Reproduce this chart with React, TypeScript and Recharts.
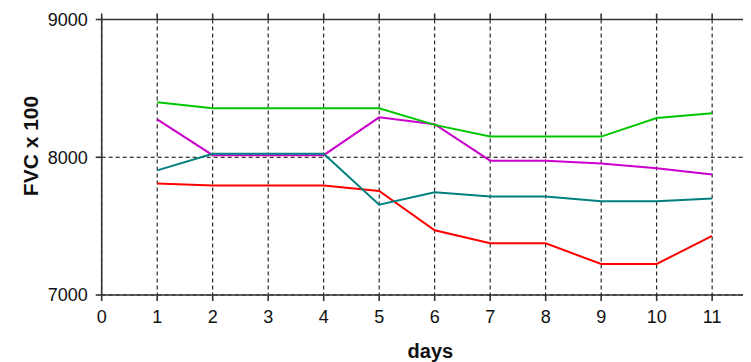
import { CartesianGrid, Label, Line, LineChart, XAxis, YAxis } from "recharts";

const days = [1, 2, 3, 4, 5, 6, 7, 8, 9, 10, 11];
const green = [8400, 8355, 8355, 8355, 8355, 8235, 8150, 8150, 8150, 8285, 8320];
const purple = [8275, 8015, 8015, 8015, 8290, 8240, 7975, 7975, 7955, 7920, 7875];
const teal = [7905, 8025, 8025, 8025, 7655, 7745, 7715, 7715, 7680, 7680, 7700];
const red = [7810, 7795, 7795, 7795, 7755, 7470, 7375, 7375, 7225, 7225, 7430];

const xTicks = [0, 1, 2, 3, 4, 5, 6, 7, 8, 9, 10, 11];
const yTicks = [7000, 8000, 9000];

const data = days.map((d, i) => ({
  day: d,
  green: green[i],
  purple: purple[i],
  teal: teal[i],
  red: red[i],
}));

const FONT = "'Liberation Sans', Arial, sans-serif";
const tickStyle = { fontSize: 18, fill: "#111", fontFamily: FONT };
const axisLine = { stroke: "#333", strokeWidth: 1.6 };

export default function App() {
  return (
    <div style={{ width: 743, height: 354 }}>
      <LineChart
        width={743}
        height={354}
        data={data}
        margin={{ top: 10.5, right: 0, left: 0, bottom: 0 }}
      >
        <CartesianGrid stroke="#000" strokeDasharray="4 3" strokeWidth={1} />
        <XAxis
          dataKey="day"
          type="number"
          domain={[0, 11.7]}
          allowDataOverflow
          ticks={xTicks}
          height={67}
          tick={tickStyle}
          tickSize={6}
          tickMargin={9}
          axisLine={axisLine}
          tickLine={axisLine}
        >
          <Label
            value="days"
            position="insideBottom"
            offset={4}
            dx={4}
            style={{ fontSize: 20, fontWeight: "bold", fill: "#111", fontFamily: FONT }}
          />
        </XAxis>
        {/* top frame line with upward ticks */}
        <XAxis
          xAxisId="top"
          orientation="top"
          dataKey="day"
          type="number"
          domain={[0, 11.7]}
          allowDataOverflow
          ticks={xTicks}
          height={1}
          tickFormatter={() => ""}
          tickSize={6}
          axisLine={axisLine}
          tickLine={axisLine}
        />
        <YAxis
          type="number"
          domain={[7000, 9000]}
          ticks={yTicks}
          width={93.7}
          tick={tickStyle}
          tickSize={6}
          tickMargin={8}
          axisLine={axisLine}
          tickLine={axisLine}
        >
          <Label
            content={() => {
              const cx = 22;
              const cy = 138;
              return (
                <text
                  x={cx}
                  y={cy}
                  transform={`rotate(-90 ${cx} ${cy})`}
                  textAnchor="middle"
                  dominantBaseline="central"
                  style={{ fontSize: 21, fontWeight: "bold", fill: "#111", fontFamily: FONT }}
                >
                  FVC x 100
                </text>
              );
            }}
          />
        </YAxis>
        <Line xAxisId="top" type="linear" dataKey="green" stroke="none" dot={false} legendType="none" isAnimationActive={false} />
        <Line type="linear" dataKey="purple" stroke="#cc00cc" strokeWidth={2} dot={false} isAnimationActive={false} />
        <Line type="linear" dataKey="green" stroke="#00c800" strokeWidth={2} dot={false} isAnimationActive={false} />
        <Line type="linear" dataKey="red" stroke="#ff0000" strokeWidth={2} dot={false} isAnimationActive={false} />
        <Line type="linear" dataKey="teal" stroke="#008080" strokeWidth={2} dot={false} isAnimationActive={false} />
      </LineChart>
    </div>
  );
}
